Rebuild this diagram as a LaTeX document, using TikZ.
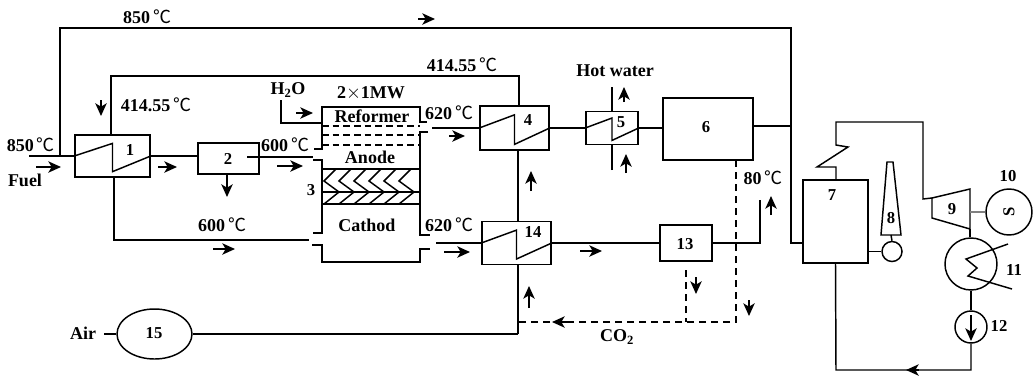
\documentclass[tikz,border=0pt]{standalone}
\usepackage{fontspec}
\setmainfont{Liberation Serif}
\newfontfamily\degfont{Noto Sans CJK SC}
\usetikzlibrary{calc,shapes.geometric,arrows.meta}
\newcommand{\dgc}{\,{\degfont\mdseries ℃}}
\tikzset{
  unit/.style={draw, line width=1.1pt, minimum width=#1, inner sep=0pt},
  tag/.style={inner sep=0pt, font=\fontsize{13.5}{15}\selectfont\bfseries},
  numtag/.style={inner sep=0pt, font=\fontsize{12.5}{14}\selectfont\bfseries},
  pipe/.style={line width=1.1pt},
  thickpipe/.style={line width=1.6pt},
  flow/.style={line width=1.1pt, -{Stealth[length=9.5pt,width=8.5pt,inset=2.5pt]}},
  gasline/.style={line width=1.1pt, dashed, dash pattern=on 5.5pt off 3.5pt}
}
\begin{document}
\begin{tikzpicture}[x=0.75pt, y=-0.75pt]
\useasboundingbox (0,0) rectangle (1036,380);
% units
\node[unit=56.25pt, minimum height=31.5pt] (hxa) at (112.5,156) {};
\node[unit=45.75pt, minimum height=23.25pt] (sep) at (228.5,158.5) {};
\node[unit=51.75pt, minimum height=33pt] (hxd) at (514.5,128) {};
\node[unit=39pt, minimum height=24.75pt] (hxe) at (612,128) {};
\node[unit=67.5pt, minimum height=46.5pt] (burner) at (708,129) {};
\node[unit=51.75pt, minimum height=32.25pt] (hxn) at (516.5,243) {};
\node[unit=39pt, minimum height=27pt] (cond) at (686,243) {};
\node[unit=48.75pt, minimum height=62.25pt] (hrsg) at (835.5,221.5) {};
\node[draw, line width=1.1pt, ellipse, minimum width=56.25pt, minimum height=37.5pt, inner sep=0pt] (blower) at (154.5,334) {};
\node[draw, line width=1.1pt, circle, minimum size=34.5pt, inner sep=0pt] (gen) at (1009,212) {};
\node[draw, line width=1.1pt, circle, minimum size=15pt, inner sep=0pt] (fan) at (892,251.5) {};
\node[draw, line width=1.1pt, circle, minimum size=39pt, inner sep=0pt] (cdr) at (971,264) {};
\node[draw, line width=1.1pt, circle, minimum size=24pt, inner sep=0pt] (pump) at (971,327) {};
% heat exchanger zigzags
\foreach \n in {hxa,hxd,hxe,hxn} {
  \draw[pipe] (\n.west) -- ($(\n.center)!0.58!(\n.north)$) -- ($(\n.center)!0.72!(\n.south)$) -- (\n.east);
}
% free ends of the pipes
\coordinate (fuelin) at (29,156);
\coordinate (anin) at (313,157);
\coordinate (caup) at (309,240);
\coordinate (anout) at (432,128);
\coordinate (caout) at (436,243);
\coordinate (waterin) at (281,100);
\coordinate (cootop) at (612,87);
\coordinate (coobot) at (612,170);
\coordinate (vent) at (760,200);
\coordinate (condcut) at (686,270);
\coordinate (airin) at (104,334);
% fuel cell housing
\coordinate (fcnw) at (322,107);
\coordinate (fcne) at (420,107);
\coordinate (fcsw) at (322,262);
\coordinate (fcse) at (420,262);
\draw[pipe] (314,149) -- (322,149) -- (fcnw) -- (fcne) -- (420,122) -- (427,122);
\draw[pipe] (428,132) -- (420,132) -- (420,235) -- (430,235);
\draw[pipe] (313,160) -- (322,160) -- (322,233) -- (313,233);
\draw[pipe] (312,245) -- (322,245) -- (fcsw) -- (fcse) -- (420,249) -- (430,249);
\foreach \y in {126,135,145} {
  \draw[pipe, dashed, dash pattern=on 5pt off 3pt] (322,\y) -- (420,\y);
}
\draw[thickpipe] (322,169) -- (420,169);
\draw[pipe] (322,192) -- (420,192);
\draw[thickpipe] (322,204) -- (420,204);
\foreach \x in {324,339,354,369,384,399} {
  \draw[pipe] (\x+12,169) -- (\x,181) -- (\x+15,192) -- (\x,204);
}
% pipes
\draw[thickpipe] (fuelin) -- (hxa.west);
\draw[thickpipe] (60,156) -- (60,28) -- (791,28) -- (791,243) -- (hrsg.west |- 0,243);
\draw[pipe] (111,135) -- (111,76) -- (519,76) -- (519,106);
\draw[pipe] (114,177) -- (114,240) -- (caup);
\draw[pipe] (hxa.east) -- (sep.west |- hxa.east);
\draw[pipe] (247,157) -- (anin);
\draw[pipe] (waterin) -- (281,123) -- (322,123);
\draw[pipe] (anout) -- (hxd.west);
\draw[pipe] (caout) -- (hxn.west);
\draw[pipe] (hxd.east) -- (hxe.west);
\draw[pipe] (hxe.east) -- (burner.west |- hxe.east);
\draw[pipe] (cootop) -- (612,111);
\draw[thickpipe] (coobot) -- (612,144);
\draw[pipe] (518,150) -- (518,221);
\draw[thickpipe] (518,264) -- (518,334);
\draw[pipe] (518,334) -- (blower.east);
\draw[thickpipe] (airin) -- (blower.west);
\draw[thickpipe] (burner.east |- 0,126) -- (791,126);
\draw[pipe] (hxn.east) -- (cond.west);
\draw[pipe] (cond.east) -- (760,243) -- (vent);
\draw[gasline] (736,160) -- (736,322) -- (518,322);
\draw[gasline] (condcut) -- (686,322);
% steam cycle
\coordinate (turbnw) at (932,198);
\coordinate (turbne) at (970,189);
\coordinate (turbse) at (970,229);
\coordinate (turbsw) at (932,218);
\draw[pipe] (836,180) -- (836,167) -- (817,167) -- (848,147) -- (836,145) -- (836,122) -- (923,122) -- (923,199) -- (turbnw);
\draw[pipe] (turbnw) -- (turbne) -- (turbse) -- (turbsw) -- cycle;
\draw[line width=0.8pt, gray] (970,212) -- (gen.west);
\draw[pipe] (turbse) -- (turbse |- cdr.north);
\draw[pipe] (1008,244) -- (966,259) -- (977,268) -- (968,276) -- (1012,289);
\draw[pipe] (cdr.south) -- (pump.north);
\draw[pipe] (pump.south) -- (971,370) -- (836,370) -- (hrsg.south);
\draw[pipe] (hrsg.east |- fan.west) -- (fan.west);
\draw[pipe] (887,162) -- (893,162) -- (901,235) -- (881,235) -- cycle;
\draw[pipe] (891,235) -- (fan.north);
% flow arrows
\draw[flow] (36,167) -- (61,167);
\draw[flow] (158,167) -- (177,167);
\draw[flow] (277,166) -- (303,166);
\draw[flow] (213,249) -- (235,249);
\draw[flow] (296,113) -- (313,113);
\draw[flow] (449,136) -- (465,136);
\draw[flow] (444,252) -- (470,252);
\draw[flow] (580,251) -- (602,251);
\draw[flow] (418,19) -- (435,19);
\draw[flow] (101,100) -- (101,116);
\draw[flow] (227,174) -- (227,197);
\draw[flow] (624,102) -- (624,87);
\draw[flow] (626,173) -- (626,154);
\draw[flow] (531,191) -- (531,171);
\draw[flow] (529,308) -- (529,286);
\draw[flow] (771,215) -- (771,196);
\draw[flow] (696,277) -- (696,294);
\draw[flow] (749,300) -- (749,316);
\draw[flow] (570,322) -- (552,322);
\draw[flow] (919,370) -- (906,370);
\draw[flow] (971,315) -- (971,341);
% labels
\node[tag] (ttop) at (147,17) {850\dgc};
\node[tag] (tfeed) at (156,105) {414.55\dgc};
\node[tag] (tfeedb) at (462,65) {414.55\dgc};
\node[tag] (tfuel) at (31,145) {850\dgc};
\node[tag] (lfuel) at (25,180) {Fuel};
\node[tag] (tsep) at (285,145) {600\dgc};
\node[tag] (tair) at (222,225) {600\dgc};
\node[tag] (lwater) at (288,90) {H\textsubscript{2}O};
\node[tag] (lpower) at (371,93) {2$\times$1MW};
\node[tag] (lref) at (372,116) {Reformer};
\node[tag] (lan) at (370,157) {Anode};
\node[tag] (lca) at (367,225) {Cathod};
\node[tag] (tana) at (449,113) {620\dgc};
\node[tag] (tcat) at (449,225) {620\dgc};
\node[tag] (lhot) at (615,71) {Hot water};
\node[tag] (tvent) at (763,178) {80\dgc};
\node[tag] (lco) at (617,337) {CO\textsubscript{2}};
\node[tag] (lair) at (83,333) {Air};
\node[numtag] (na) at (130,150) {1};
\node[numtag] (nb) at (228,159) {2};
\node[numtag] (nc) at (311,190) {3};
\node[numtag] (nd) at (528,120) {4};
\node[numtag] (ne) at (621,122) {5};
\node[numtag] (nf) at (706,127) {6};
\node[numtag] (ng) at (832,195) {7};
\node[numtag] (nh) at (891,218) {8};
\node[numtag] (ni) at (952,209) {9};
\node[numtag] (nj) at (1008,176) {10};
\node[numtag] (nk) at (1014,270) {11};
\node[numtag] (nl) at (999,326) {12};
\node[numtag] (nm) at (685,244) {13};
\node[numtag] (nn) at (533,232) {14};
\node[numtag] (no) at (154,333) {15};
\node[numtag, rotate=90] (ls) at (1009,212) {S};
\end{tikzpicture}
\end{document}
